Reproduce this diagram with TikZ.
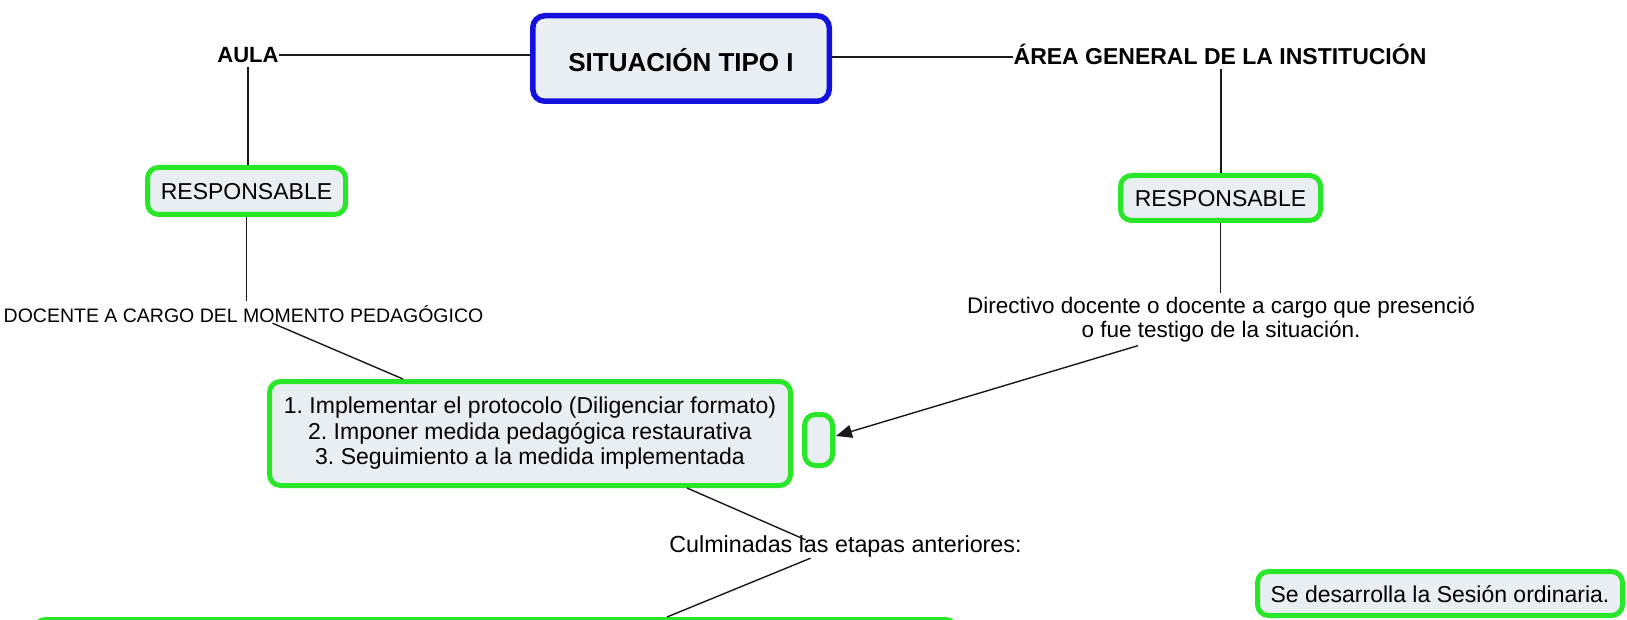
\documentclass[tikz,border=0pt]{standalone}
\usepackage{fontspec}
\setmainfont{Liberation Sans}
\usetikzlibrary{arrows.meta,calc}
\definecolor{boxfill}{RGB}{233,238,243}
\definecolor{gline}{RGB}{40,230,40}
\definecolor{bline}{RGB}{18,18,220}
\definecolor{connc}{RGB}{25,25,25}
\frenchspacing
\begin{document}
\begin{tikzpicture}[x=1pt,y=-1pt,
  gbox/.style={draw=gline, line width=5pt, fill=boxfill, rounded corners=11pt, inner sep=0pt, align=center},
  bbox/.style={draw=bline, line width=5.5pt, fill=boxfill, rounded corners=12pt, inner sep=0pt},
  lbl/.style={inner sep=0pt, align=center},
  conn/.style={draw=connc, line width=1.4pt},
  fA/.style={font=\fontsize{23}{25.5}\selectfont},
]
\useasboundingbox[fill=white] (0,0) rectangle (1627,620);
\clip (0,0) rectangle (1627,620);

% boxes
\node[bbox, minimum width=296.5pt, minimum height=85.5pt, text height=27pt, text depth=0pt,
      font=\bfseries\fontsize{26}{30}\selectfont] (main) at (681,58.5) {SITUACIÓN TIPO I};
\node[gbox, fA, minimum width=198pt, minimum height=47pt, text height=16.5pt, text depth=0pt] (lresp) at (246.5,191) {RESPONSABLE};
\node[gbox, fA, minimum width=200pt, minimum height=45pt, text height=16.5pt, text depth=0pt] (rresp) at (1220.5,198) {RESPONSABLE};
\node[gbox, fA, minimum width=521pt, minimum height=104pt] (mid) at (530,433.5)
  {1. Implementar el protocolo (Diligenciar formato)\\2. Imponer medida pedagógica restaurativa\\3. Seguimiento a la medida implementada};
\node[gbox, minimum width=28pt, minimum height=51pt] (small) at (818.5,440) {};
\node[gbox, fA, minimum width=365pt, minimum height=44pt, text height=18pt, text depth=0pt] (sesion) at (1440,593.5) {Se desarrolla la Sesión ordinaria.};
\node[gbox, minimum width=922pt, minimum height=90pt] (bottom) at (495.5,664.5) {};

% labels
\node[lbl, anchor=base, font=\bfseries\fontsize{22}{26}\selectfont, text height=16pt, text depth=0pt] (aula) at (248,63) {AULA};
\node[lbl, anchor=base, font=\bfseries\fontsize{23}{27}\selectfont, text height=16pt, text depth=0pt] (area) at (1220,65) {ÁREA GENERAL DE LA INSTITUCIÓN};
\node[lbl, anchor=base, font=\fontsize{19.5}{23}\selectfont, text height=14pt, text depth=0pt] (doc) at (243.5,322) {DOCENTE A CARGO DEL MOMENTO PEDAGÓGICO};
\node[lbl, anchor=north, font=\fontsize{22.5}{24}\selectfont] (dir) at (1221,297)
  {Directivo docente o docente a cargo que presenció\\o fue testigo de la situación.};
\node[lbl, anchor=base, font=\fontsize{23.3}{27}\selectfont, text height=17pt, text depth=0pt] (cul) at (845.5,552) {Culminadas las etapas anteriores:};

% connectors
\draw[conn] (aula.east) -- (main.west |- aula.east);
\draw[conn] (main.east |- area.west) -- (area.west);
\draw[conn] ($(aula.south)+(0,4)$) -- (aula.south |- lresp.north);
\draw[conn] (lresp.south) -- ($(lresp.south |- doc.north)+(0,-7)$);
\draw[conn] ($(area.south)+(1,4)$) -- ($(area.south |- rresp.north)+(1,0)$);
\draw[conn] (rresp.south) -- ($(rresp.south |- dir.north)+(0,-4)$);
\draw[conn] ($(doc.south west)+(269,1)$) -- ($(mid.north west)+(136,0)$);
\draw[conn, -{Triangle[length=16pt,width=13pt]}] ($(dir.south)+(-83,3)$) -- ($(small.east)+(1,-4)$);
\draw[conn] ($(mid.south)+(157,0)$) -- ($(cul.north)+(-40,5)$);
\draw[conn] ($(cul.south)+(-35,6)$) -- ($(bottom.north)+(171.5,0)$);
\end{tikzpicture}
\end{document}
